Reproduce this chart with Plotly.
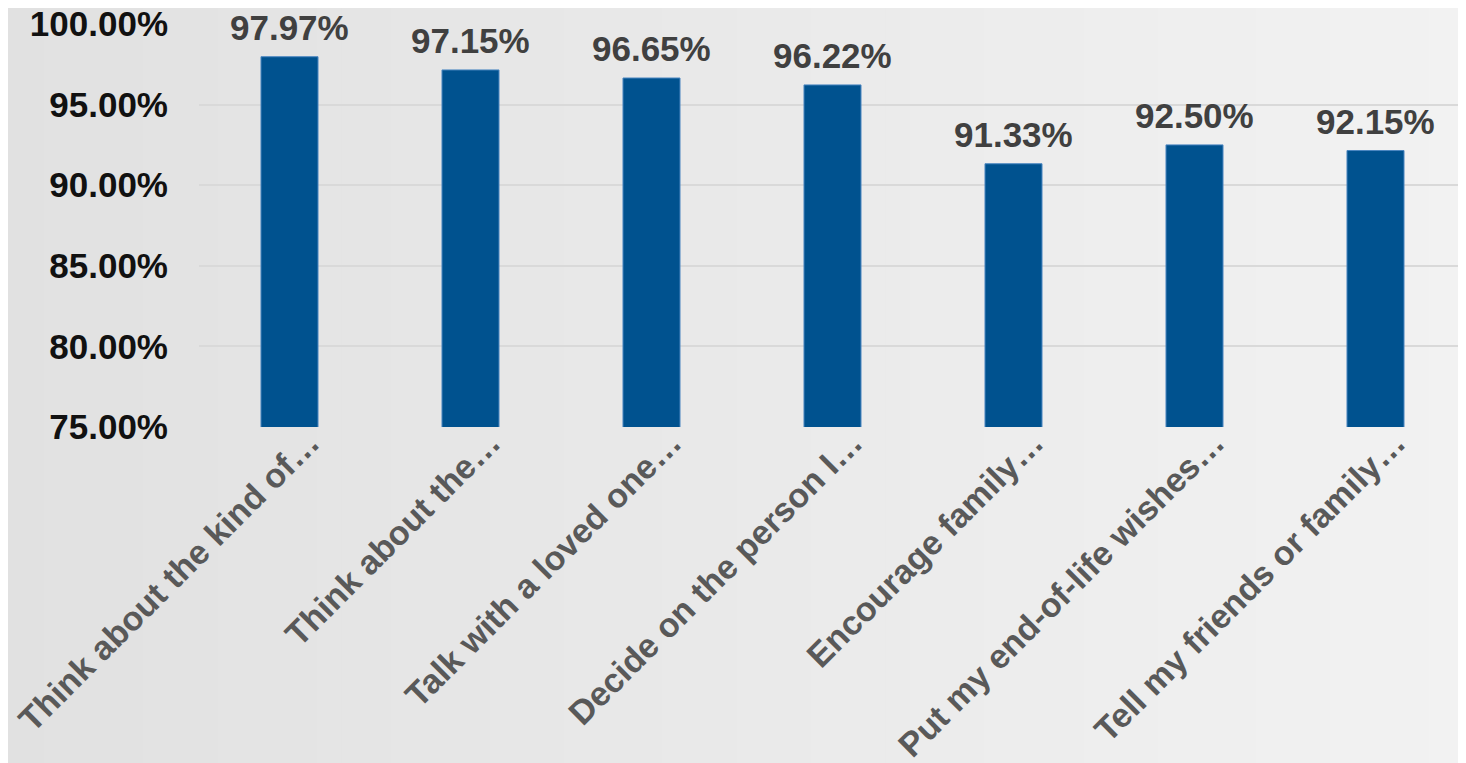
import plotly.graph_objects as go

categories = [
    "Think about the kind of…",
    "Think about the…",
    "Talk with a loved one…",
    "Decide on the person I…",
    "Encourage family…",
    "Put my end-of-life wishes…",
    "Tell my friends or family…",
]
values = [97.97, 97.15, 96.65, 96.22, 91.33, 92.50, 92.15]
y_ticks = [75, 80, 85, 90, 95, 100]

# page has an 8px body margin, so the figure is sized to fit the window
W, H = 1458, 755
ML, MR, MT, MB = 191, 0, 16, 336
PW = W - ML - MR
PH = H - MT - MB
FONT = "Liberation Sans, Arial, sans-serif"

fig = go.Figure()
fig.add_trace(go.Bar(
    x=categories, y=values,
    marker=dict(color="#00528f", line=dict(color="#4a86c0", width=1)),
    cliponaxis=False,
    hoverinfo="skip",
))

for c, v in zip(categories, values):
    fig.add_annotation(
        x=c, y=v, text=f"{v:.2f}%", showarrow=False,
        yanchor="bottom", yshift=8,
        font=dict(family=FONT, size=35, color="#404040", weight="bold"),
    )

# background gradient (left darker, right lighter)
n = 60
c0, c1 = (0xE1, 0xE1, 0xE1), (0xF2, 0xF2, 0xF2)
x_start = -ML / PW - 0.01
x_end = 1 + MR / PW + 0.01
for i in range(n):
    t = i / (n - 1)
    col = tuple(round(a + (b - a) * t) for a, b in zip(c0, c1))
    xa = x_start + (x_end - x_start) * i / n
    xb = x_start + (x_end - x_start) * (i + 1) / n + 0.002
    fig.add_shape(
        type="rect", xref="paper", yref="paper",
        x0=xa, x1=xb, y0=-MB / PH - 0.02, y1=1 + MT / PH + 0.02,
        fillcolor="rgb(%d,%d,%d)" % col, line=dict(width=0), layer="below",
    )

fig.update_layout(
    width=W, height=H,
    margin=dict(l=ML, r=MR, t=MT, b=MB, autoexpand=False),
    paper_bgcolor="#e9e9e9",
    plot_bgcolor="rgba(0,0,0,0)",
    bargap=0.685,
    showlegend=False,
    font=dict(family=FONT),
)
fig.update_xaxes(
    automargin=False,
    tickangle=-45,
    tickfont=dict(size=34, color="#595959", family=FONT, weight="bold"),
    showgrid=False, showline=False, zeroline=False, ticks="",
    ticklabelstandoff=-12,
    ticklabelshift=20,
)
fig.update_yaxes(
    automargin=False,
    range=[75, 100],
    tickvals=y_ticks,
    ticktext=[f"{t:.2f}%" for t in y_ticks],
    tickfont=dict(size=35, color="#111111", family=FONT, weight="bold"),
    showgrid=True, gridcolor="#d9d9d9", gridwidth=2,
    zeroline=False, showline=False, ticks="",
    ticklabelstandoff=30,
    ticklabeloverflow="allow",
)

fig.write_html("out.html")
